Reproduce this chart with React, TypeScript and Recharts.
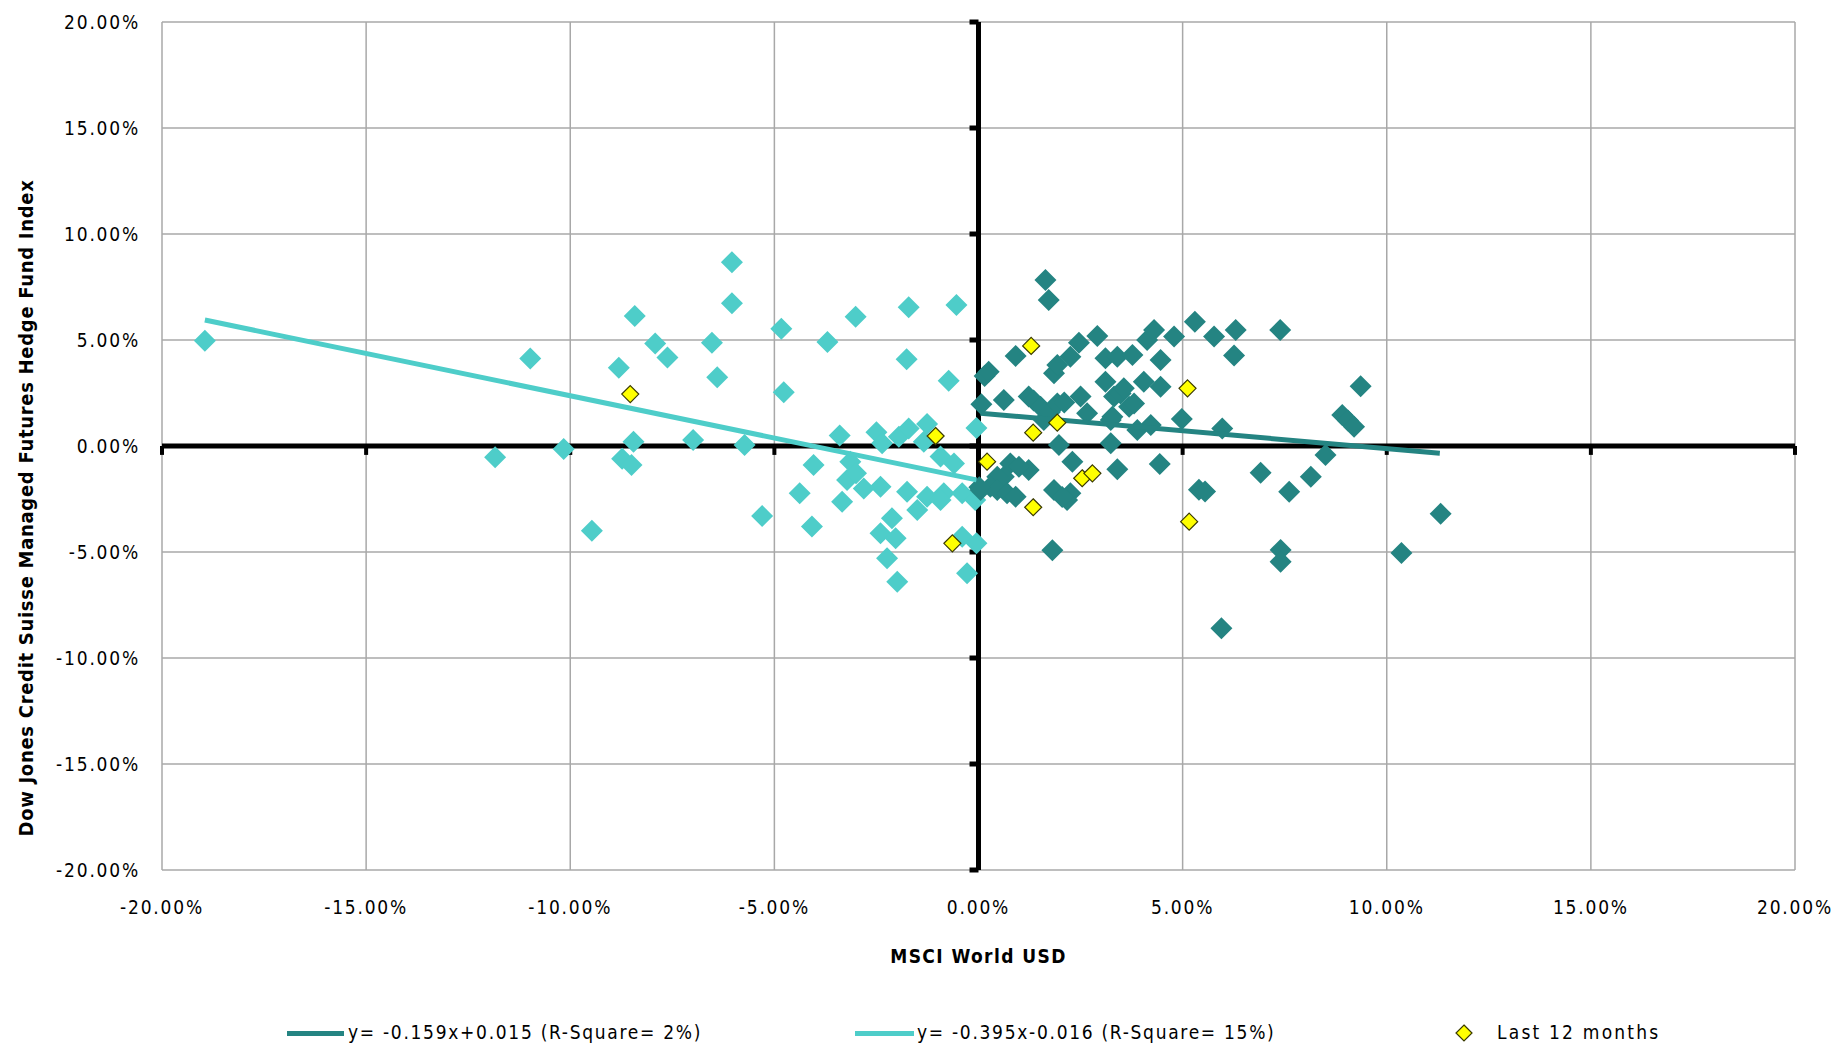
import React from 'react';
import { ScatterChart, Scatter, XAxis, YAxis, CartesianGrid, ReferenceLine } from 'recharts';

const FONT = "'DejaVu Sans Condensed', 'Liberation Sans Narrow', 'Open Sans', sans-serif";
const TEAL = '#248482';
const CYAN = '#4ECDC9';
const YELLOW = '#FFFF00';

const axisTicks = [-20, -15, -10, -5, 0, 5, 10, 15, 20];

// months where MSCI World was up (x = MSCI %, y = hedge fund index %)
const upMonths: [number, number][] = [
  [0.07, 1.97], [0.15, 3.3], [0.25, 3.5], [0.62, 2.17], [0.91, 4.25], [1.23, 2.33],
  [1.35, 2.15], [1.52, 1.85], [1.6, 1.23], [1.64, 7.83], [1.72, 6.89], [1.75, 1.6],
  [1.85, 3.43], [1.93, 3.82], [1.93, 2.01], [2.1, 2.05], [2.25, 4.21], [2.46, 4.87],
  [2.5, 2.33], [2.66, 1.54], [2.91, 5.19], [1.97, 0.05], [3.11, 4.14], [3.11, 3.03],
  [3.24, 0.13], [3.24, 1.23], [3.28, 1.38], [3.32, 2.33], [3.4, 4.21], [3.48, 2.48],
  [3.56, 2.72], [3.69, 1.85], [3.77, 4.29], [3.81, 2.01], [3.89, 0.75], [4.05, 3.03],
  [4.13, 5.0], [4.22, 0.99], [4.3, 5.47], [4.46, 4.06], [4.46, 2.8], [4.79, 5.16],
  [4.98, 1.27], [5.3, 5.86], [5.77, 5.16], [5.97, 0.83], [6.26, 4.27], [6.3, 5.47],
  [7.39, 5.47], [9.36, 2.82], [8.91, 1.46], [9.05, 1.2], [9.2, 0.91], [8.5, -0.42],
  [6.91, -1.26], [8.14, -1.45], [7.61, -2.16], [5.4, -2.06], [5.55, -2.15], [11.32, -3.2],
  [7.4, -4.9], [7.4, -5.46], [10.36, -5.05], [5.95, -8.6], [1.81, -4.92], [4.44, -0.85],
  [3.4, -1.1], [2.3, -0.74], [0.78, -0.82], [1.23, -1.13], [0.99, -0.98], [0.62, -1.45],
  [0.46, -1.45], [0.29, -1.92], [0.05, -2.08], [0.46, -2.08], [0.7, -2.23], [0.91, -2.39],
  [1.85, -2.08], [2.25, -2.23], [2.17, -2.55], [2.05, -2.4], [0.02, -1.95],
];

// months where MSCI World was down
const downMonths: [number, number][] = [
  [-18.95, 4.97], [-10.98, 4.13], [-11.84, -0.53], [-10.16, -0.14], [-9.47, -4.0],
  [-8.81, 3.69], [-8.42, 6.13], [-8.73, -0.6], [-8.5, -0.9], [-8.45, 0.2], [-7.92, 4.84],
  [-7.62, 4.17], [-6.99, 0.28], [-6.53, 4.87], [-6.4, 3.24], [-6.04, 8.67], [-6.04, 6.73],
  [-5.73, 0.05], [-5.3, -3.3], [-4.83, 5.53], [-4.77, 2.53], [-4.38, -2.23], [-4.08, -3.8],
  [-4.04, -0.9], [-3.7, 4.9], [-3.4, 0.5], [-3.14, -0.74], [-3.22, -1.6], [-3.0, -1.29],
  [-3.34, -2.63], [-3.01, 6.1], [-2.81, -2.0], [-2.5, 0.65], [-2.36, 0.13], [-2.4, -1.92],
  [-2.12, -3.41], [-2.4, -4.12], [-2.03, -4.35], [-2.24, -5.3], [-1.99, -6.4], [-1.95, 0.44],
  [-1.76, 4.09], [-1.71, 6.54], [-1.71, 0.83], [-1.75, -2.16], [-1.5, -3.02], [-1.34, 0.2],
  [-1.26, 1.04], [-1.26, -2.39], [-0.93, -0.5], [-0.85, -2.23], [-0.93, -2.55], [-0.73, 3.08],
  [-0.6, -0.82], [-0.54, 6.65], [-0.4, -2.23], [-0.4, -4.28], [-0.28, -6.0], [-0.08, -2.55],
  [-0.05, 0.85], [-0.05, -4.59],
];

const last12Months: [number, number][] = [
  [-8.53, 2.45], [-1.05, 0.47], [-0.64, -4.59], [0.21, -0.74], [1.29, 4.72], [1.34, 0.63],
  [1.93, 1.1], [1.34, -2.89], [2.54, -1.52], [2.79, -1.29], [5.12, 2.72], [5.16, -3.57],
];

// regression line end points
const upTrend: [number, number][] = [[0.05, 1.55], [11.3, -0.34]];
const downTrend: [number, number][] = [[-18.95, 5.94], [-0.05, -1.6]];

const legendLabels = [
  'y= -0.159x+0.015 (R-Square= 2%)',
  'y= -0.395x-0.016 (R-Square= 15%)',
  'Last 12 months',
];

const yTitle = 'Dow Jones Credit Suisse Managed Futures Hedge Fund Index';

const toPoints = (arr: [number, number][]) => arr.map(([x, y]) => ({ x, y }));
const pct = (v: number) => `${v.toFixed(2)}%`;

const diamond = (r: number, fill: string, stroke?: string) => (props: any) => {
  const { cx, cy } = props;
  if (cx == null || cy == null) return <g />;
  return (
    <path
      d={`M${cx},${cy - r}L${cx + r},${cy}L${cx},${cy + r}L${cx - r},${cy}Z`}
      fill={fill}
      stroke={stroke || 'none'}
      strokeWidth={stroke ? 1.2 : 0}
    />
  );
};

const noShape = () => <g />;

// y axis title sits a bit below the plot centre, like in the excel original
const YTitle = (props: any) => {
  const { viewBox } = props;
  const x = viewBox.x + 26;
  const y = viewBox.y + viewBox.height / 2 + 62;
  return (
    <text
      x={x}
      y={y}
      transform={`rotate(-90 ${x} ${y})`}
      textAnchor="middle"
      dominantBaseline="central"
      fontFamily={FONT}
      fontSize={20}
      fontWeight="bold"
      letterSpacing={0.7}
      fill="#000"
    >
      {yTitle}
    </text>
  );
};

export default function App() {
  const tickStyle = { fill: '#000', fontSize: 19, fontFamily: FONT, letterSpacing: 1.8 };
  const titleStyle = { fill: '#000', fontSize: 19, fontWeight: 'bold' as const, fontFamily: FONT, letterSpacing: 1.4 };

  return (
    <div style={{ position: 'absolute', left: 0, top: 0, width: 1837, height: 1046, background: '#fff', fontFamily: FONT }}>
      <ScatterChart width={1837} height={1046} margin={{ top: 22, right: 42, bottom: 0, left: 0 }}>
        <CartesianGrid stroke="#a8a8a8" strokeWidth={1.5} />
        <XAxis
          type="number"
          dataKey="x"
          domain={[-20, 20]}
          ticks={axisTicks}
          tickFormatter={pct}
          height={176}
          axisLine={false}
          tickLine={false}
          tickSize={0}
          tickMargin={31}
          tick={tickStyle}
          label={{ value: 'MSCI World USD', position: 'insideTop', offset: 80, style: titleStyle }}
        />
        <YAxis
          type="number"
          dataKey="y"
          domain={[-20, 20]}
          ticks={axisTicks}
          tickFormatter={pct}
          width={162}
          axisLine={false}
          tickLine={false}
          tickSize={0}
          tickMargin={22}
          tick={tickStyle}
          label={<YTitle />}
        />
        <ReferenceLine y={0} stroke="#000" strokeWidth={5} />
        <ReferenceLine x={0} stroke="#000" strokeWidth={5} />
        {axisTicks.map((t) => (
          <ReferenceLine key={`xt${t}`} segment={[{ x: t, y: 0 }, { x: t, y: -0.42 }]} stroke="#000" strokeWidth={4} />
        ))}
        {axisTicks.map((t) => (
          <ReferenceLine key={`yt${t}`} segment={[{ x: 0, y: t }, { x: -0.22, y: t }]} stroke="#000" strokeWidth={5} />
        ))}
        <Scatter data={toPoints(downMonths)} shape={diamond(11, CYAN)} isAnimationActive={false} />
        <Scatter data={toPoints(upMonths)} shape={diamond(11, TEAL)} isAnimationActive={false} />
        <Scatter data={toPoints(downTrend)} line={{ stroke: CYAN, strokeWidth: 5 }} shape={noShape} isAnimationActive={false} />
        <Scatter data={toPoints(upTrend)} line={{ stroke: TEAL, strokeWidth: 5 }} shape={noShape} isAnimationActive={false} />
        <Scatter data={toPoints(last12Months)} shape={diamond(8.5, YELLOW, '#3a3a00')} isAnimationActive={false} />
      </ScatterChart>

      <div style={{ position: 'absolute', top: 1020, left: 0, width: 1837, height: 26, fontSize: 19, letterSpacing: 1.7, color: '#000' }}>
        <div style={{ position: 'absolute', left: 287, top: 11, width: 57, height: 5, background: TEAL }} />
        <span style={{ position: 'absolute', left: 348, top: 1, whiteSpace: 'nowrap' }}>{legendLabels[0]}</span>
        <div style={{ position: 'absolute', left: 855, top: 11, width: 59, height: 5, background: CYAN }} />
        <span style={{ position: 'absolute', left: 917, top: 1, whiteSpace: 'nowrap' }}>{legendLabels[1]}</span>
        <svg style={{ position: 'absolute', left: 1455, top: 4 }} width={18} height={18}>
          <path d="M9,1L17,9L9,17L1,9Z" fill={YELLOW} stroke="#3a3a00" strokeWidth={1.2} />
        </svg>
        <span style={{ position: 'absolute', left: 1497, top: 1, whiteSpace: 'nowrap', letterSpacing: 2.2 }}>{legendLabels[2]}</span>
      </div>
    </div>
  );
}
